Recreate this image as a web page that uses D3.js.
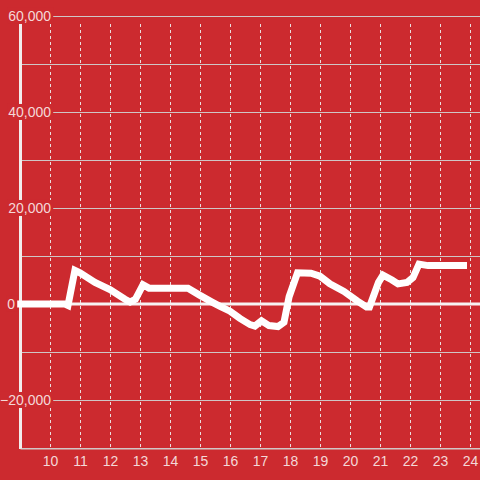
<!DOCTYPE html>
<html>
<head>
<meta charset="utf-8">
<script src="https://cdn.jsdelivr.net/npm/d3@7"></script>
<style>
	html, body { margin: 0; padding: 0; background: #cc2a2f; }
	svg { display: block; }
	.tick text { font-family: "Liberation Sans", Arial, sans-serif; font-size: 14px; fill: #f4d8d8; }
</style>
</head>
<body>
<div id="chart"></div>
<script>
// hour of day
var hours = [8.9, 10.5, 10.6, 10.83, 11.0, 11.5, 12.0, 12.5, 12.67, 12.85, 13.1, 13.3, 14.6, 15.0, 15.4, 15.67,
	16.0, 16.33, 16.67, 16.83, 17.05, 17.3, 17.6, 17.8, 17.97, 18.25, 18.7, 19.0, 19.33, 19.8, 20.25, 20.55,
	20.65, 20.95, 21.1, 21.4, 21.6, 21.9, 22.1, 22.3, 22.6, 23.9];
var values = [0, 0, -300, 7000, 6500, 4500, 3000, 1000, 400, 1000, 4000, 3300, 3300, 1800, 400, -500,
	-1500, -3000, -4300, -4600, -3500, -4500, -4700, -3800, 1500, 6500, 6400, 5800, 4200, 2600, 600, -600,
	-600, 4500, 6000, 5000, 4200, 4500, 5500, 8300, 8000, 8000];
var xTicks = [10, 11, 12, 13, 14, 15, 16, 17, 18, 19, 20, 21, 22, 23, 24];
var yGrid = [-30000, -20000, -10000, 0, 10000, 20000, 30000, 40000, 50000, 60000];
var yLabels = [-20000, 0, 20000, 40000, 60000];

var width = 480, height = 480;
var margin = { left: 20, right: 0, top: 16, bottom: 32 };

var svg = d3.select('#chart').append('svg')
	.attr('width', width)
	.attr('height', height);

let x = d3.scaleLinear().domain([9, 24 + 1 / 3]).range([margin.left, width - margin.right]);
let y = d3.scaleLinear().domain([-30000, 60000]).range([height - margin.bottom, margin.top]);

// horizontal grid
svg.append('g').selectAll('line').data(yGrid).enter().append('line')
	.attr('x1', margin.left).attr('x2', width)
	.attr('y1', d => y(d) + 0.5).attr('y2', d => y(d) + 0.5)
	.attr('stroke', '#cfc6c6').attr('stroke-width', 1);

// vertical dashed grid
svg.append('g').selectAll('line').data(xTicks).enter().append('line')
	.attr('x1', d => x(d) + 0.5).attr('x2', d => x(d) + 0.5)
	.attr('y1', margin.top + 8).attr('y2', y(-30000))
	.attr('stroke', '#eadede').attr('stroke-width', 1)
	.attr('stroke-dasharray', '3,3');

// zero line
svg.append('line')
	.attr('x1', margin.left).attr('x2', width)
	.attr('y1', y(0)).attr('y2', y(0))
	.attr('stroke', '#f7f2f2').attr('stroke-width', 3);

// y axis line
svg.append('line')
	.attr('x1', margin.left + 0.5).attr('x2', margin.left + 0.5)
	.attr('y1', margin.top).attr('y2', y(-30000) + 1)
	.attr('stroke', '#f2eded').attr('stroke-width', 3);

// data line
let line = d3.line().x((d, i) => x(hours[i])).y(d => y(d));
svg.append('path')
	.datum(values)
	.attr('d', line)
	.attr('fill', 'none')
	.attr('stroke', '#ffffff')
	.attr('stroke-width', 7)
	.attr('stroke-linejoin', 'miter');

// x axis
let xAxis = svg.append('g')
	.attr('transform', 'translate(0,' + (y(-30000) + 0.5) + ')')
	.call(d3.axisBottom(x).tickValues(xTicks).tickSize(0).tickPadding(8).tickFormat(d3.format('d')));
xAxis.select('.domain').attr('stroke', '#d2c8c8').attr('stroke-width', 1);

// y labels with background
let yAxis = svg.append('g')
	.attr('transform', 'translate(51,0)')
	.call(d3.axisLeft(y).tickValues(yLabels).tickSize(0).tickPadding(0).tickFormat(d3.format(',')));
yAxis.select('.domain').remove();
// the zero label sits further left
yAxis.selectAll('.tick text').filter(d => d === 0).attr('x', -36);
yAxis.selectAll('.tick').each(function () {
	let t = d3.select(this);
	let bb = t.select('text').node().getBBox();
	t.insert('rect', 'text')
		.attr('x', bb.x - 1).attr('y', bb.y)
		.attr('width', bb.width + 3).attr('height', bb.height)
		.attr('fill', '#cc2a2f');
});
</script>
</body>
</html>
